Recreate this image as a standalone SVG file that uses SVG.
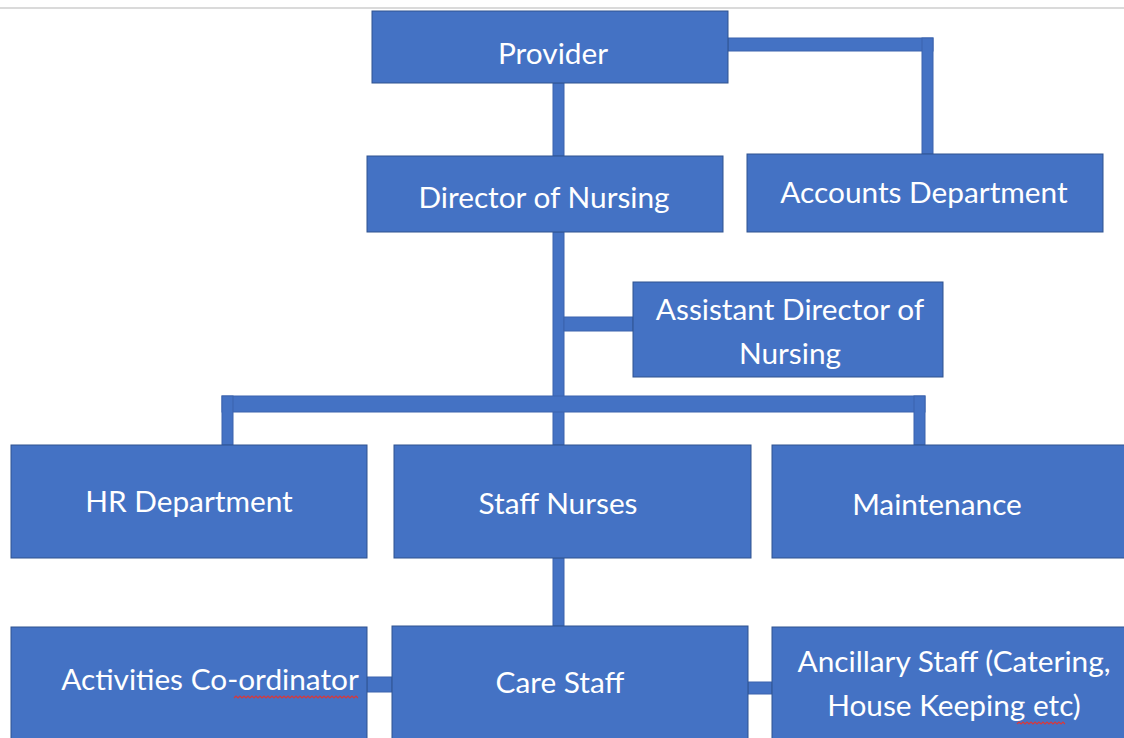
<svg xmlns="http://www.w3.org/2000/svg" width="1124" height="738" viewBox="0 0 1124 738">
  <style>
    .box { fill: #4472C4; stroke: #2F528F; stroke-width: 1; }
    .bar { fill: #4472C4; stroke: #3A63AD; stroke-width: 1; }
    .label { font-family: Lato, "Open Sans", "Liberation Sans", sans-serif; font-size: 29.8px; fill: #FFFFFF; text-anchor: middle; }
    .squiggle { fill: none; stroke: #D9383A; stroke-width: 1.2; }
  </style>

  <!-- page rule at the top -->
  <rect x="0" y="7" width="1124" height="2" fill="#DADADA"/>

  <!-- connectors -->
  <g id="connectors">
    <rect class="bar" x="553" y="83" width="11" height="73"/>
    <rect class="bar" x="728" y="38" width="205" height="13"/>
    <rect class="bar" x="922" y="38" width="11" height="116"/>
    <rect class="bar" x="553" y="232" width="11" height="213"/>
    <rect class="bar" x="564" y="317" width="69" height="14"/>
    <rect class="bar" x="222" y="396" width="703" height="16"/>
    <rect class="bar" x="222" y="396" width="11" height="49"/>
    <rect class="bar" x="914" y="396" width="11" height="49"/>
    <rect class="bar" x="553" y="558" width="11" height="68"/>
    <rect class="bar" x="367" y="677" width="25" height="15"/>
    <rect class="bar" x="748" y="682" width="24" height="12"/>
  </g>

  <g id="provider">
    <rect class="box" x="372" y="11" width="356" height="72"/>
    <text class="label" x="553" y="64">Provider</text>
  </g>

  <g id="director-of-nursing">
    <rect class="box" x="367" y="156" width="356" height="76"/>
    <text class="label" x="544" y="208">Director of Nursing</text>
  </g>

  <g id="accounts-department">
    <rect class="box" x="747" y="154" width="356" height="78"/>
    <text class="label" x="924" y="203">Accounts Department</text>
  </g>

  <g id="assistant-director">
    <rect class="box" x="633" y="282" width="310" height="95"/>
    <text class="label" x="790" y="320">Assistant Director of</text>
    <text class="label" x="790" y="364">Nursing</text>
  </g>

  <g id="hr-department">
    <rect class="box" x="11" y="445" width="356" height="113"/>
    <text class="label" x="189" y="512">HR Department</text>
  </g>

  <g id="staff-nurses">
    <rect class="box" x="394" y="445" width="357" height="113"/>
    <text class="label" x="558" y="514">Staff Nurses</text>
  </g>

  <g id="maintenance">
    <rect class="box" x="772" y="445" width="360" height="113"/>
    <text class="label" x="937" y="515">Maintenance</text>
  </g>

  <g id="activities-coordinator">
    <rect class="box" x="11" y="627" width="356" height="120"/>
    <text class="label" x="210" y="690">Activities Co-ordinator</text>
    <path class="squiggle" d="M234 698 l2 -2 l2 2 l2 -2 l2 2 l2 -2 l2 2 l2 -2 l2 2 l2 -2 l2 2 l2 -2 l2 2 l2 -2 l2 2 l2 -2 l2 2 l2 -2 l2 2 l2 -2 l2 2 l2 -2 l2 2 l2 -2 l2 2 l2 -2 l2 2 l2 -2 l2 2 l2 -2 l2 2 l2 -2 l2 2 l2 -2 l2 2 l2 -2 l2 2 l2 -2 l2 2 l2 -2 l2 2 l2 -2 l2 2 l2 -2 l2 2 l2 -2 l2 2 l2 -2 l2 2 l2 -2 l2 2 l2 -2 l2 2 l2 -2 l2 2 l2 -2 l2 2 l2 -2 l2 2 l2 -2 l2 2 l2 -2 l2 2"/>
  </g>

  <g id="care-staff">
    <rect class="box" x="392" y="626" width="356" height="120"/>
    <text class="label" x="560" y="693">Care Staff</text>
  </g>

  <g id="ancillary-staff">
    <rect class="box" x="772" y="627" width="360" height="120"/>
    <text class="label" x="954" y="672">Ancillary Staff (Catering,</text>
    <text class="label" x="954" y="716">House Keeping etc)</text>
    <path class="squiggle" d="M1017 724 l2 -2 l2 2 l2 -2 l2 2 l2 -2 l2 2 l2 -2 l2 2 l2 -2 l2 2 l2 -2 l2 2 l2 -2 l2 2 l2 -2 l2 2 l2 -2 l2 2 l2 -2 l2 2 l2 -2 l2 2 l2 -2 l2 2"/>
  </g>
</svg>
